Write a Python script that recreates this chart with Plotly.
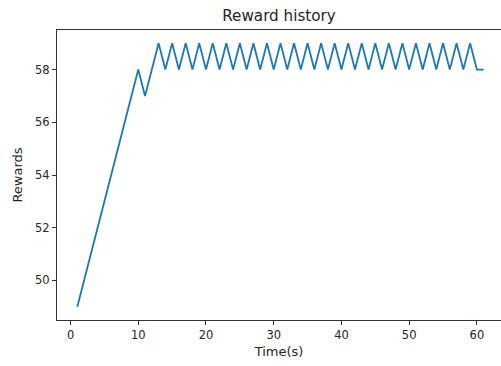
import plotly.graph_objects as go

# Reward per second of the run
time_s = list(range(1, 62))
rewards = [49, 50, 51, 52, 53, 54, 55, 56, 57, 58,
           57, 58] + [59 if t % 2 == 1 else 58 for t in range(13, 60)] + [58, 58]

x_ticks = [0, 10, 20, 30, 40, 50, 60]
y_ticks = [50, 52, 54, 56, 58]

font = "DejaVu Sans"

fig = go.Figure(
    go.Scatter(x=time_s, y=rewards, mode="lines",
               line=dict(color="#1f77b4", width=1.8))
)

fig.update_layout(
    width=501, height=366,
    margin=dict(l=57, r=0, t=30, b=46),
    plot_bgcolor="white", paper_bgcolor="white",
    showlegend=False,
    font=dict(family=font, size=11.5, color="#262626"),
    title=dict(text="Reward history", x=0.5, xanchor="center", xref="paper",
               y=1 - 16 / 366, yanchor="middle",
               font=dict(family=font, size=15.2, color="#262626")),
)

fig.update_xaxes(
    range=[-2, 63.56], tickvals=x_ticks, showgrid=False, zeroline=False,
    showline=True, linecolor="#333", linewidth=1, mirror=True,
    ticks="outside", ticklen=4, tickcolor="#333",
    title=dict(text="Time(s)", standoff=6, font=dict(size=13)),
)
fig.update_yaxes(
    range=[48.5, 59.5], tickvals=y_ticks, showgrid=False, zeroline=False,
    showline=True, linecolor="#333", linewidth=1,
    ticks="outside", ticklen=4, tickcolor="#333",
    title=dict(text="Rewards", standoff=9, font=dict(size=13)),
)

fig.write_html("out.html")
